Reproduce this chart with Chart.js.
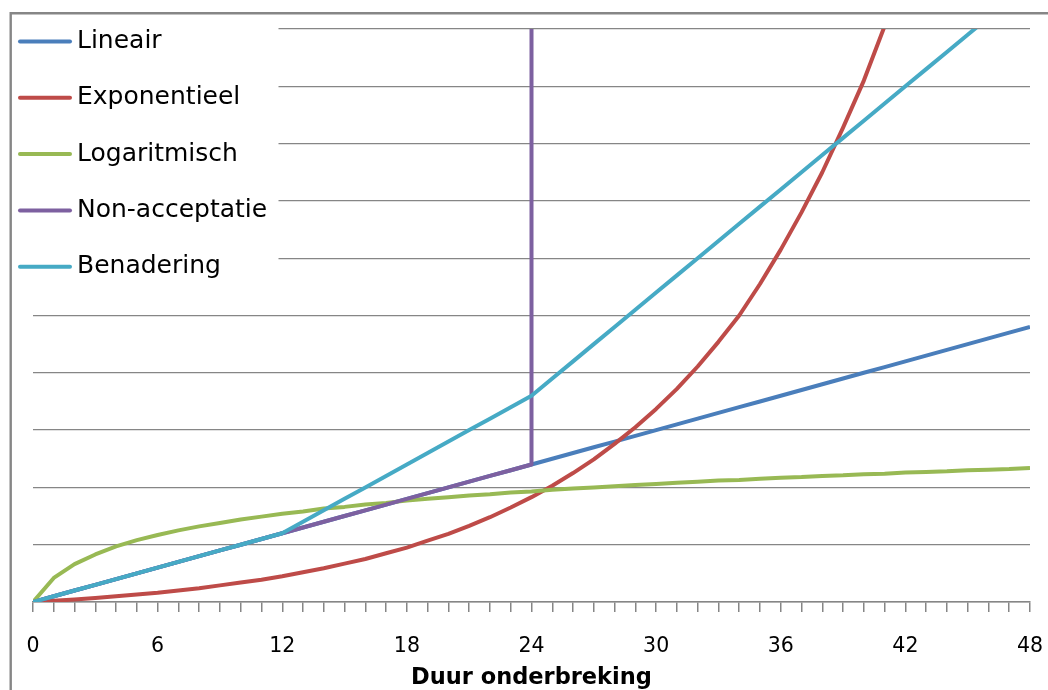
<!DOCTYPE html>
<html>
<head>
<meta charset="utf-8">
<script src="https://cdn.jsdelivr.net/npm/chart.js@4/dist/chart.umd.min.js"></script>
<style>
  html, body { margin: 0; padding: 0; background: #ffffff; }
  #wrap { width: 1048px; height: 690px; }
</style>
</head>
<body>
<div id="wrap"><canvas id="c" width="1048" height="690"></canvas></div>
<script>
// ---- data ----
const hours = [0,1,2,3,4,5,6,7,8,9,10,11,12,13,14,15,16,17,18,19,20,21,22,23,24,
  25,26,27,28,29,30,31,32,33,34,35,36,37,38,39,40,41,42,43,44,45,46,47,48];

const seriesNames = ["Lineair", "Exponentieel", "Logaritmisch", "Non-acceptatie", "Benadering"];
const seriesColors = ["#4A7EBB", "#BE4B48", "#98B954", "#7D60A0", "#46AAC5"];

const lineair = [0,0.1,0.2,0.3,0.4,0.5,0.6,0.7,0.8,0.9,1.0,1.1,1.2,1.3,1.4,1.5,1.6,1.7,1.8,1.9,2.0,
  2.1,2.2,2.3,2.4,2.5,2.6,2.7,2.8,2.9,3.0,3.1,3.2,3.3,3.4,3.5,3.6,3.7,3.8,3.9,4.0,4.1,4.2,4.3,4.4,4.5,4.6,4.7,4.8];

const exponentieel = [0,0.02,0.045,0.07,0.1,0.13,0.16,0.2,0.24,0.29,0.34,0.39,0.45,0.52,0.59,0.67,0.75,0.85,
  0.95,1.07,1.19,1.33,1.48,1.65,1.83,2.03,2.25,2.49,2.76,3.05,3.37,3.72,4.11,4.54,5.0,5.55,6.15,6.8,7.5,8.28,9.1,10.05,11.1];

const logaritmisch = [0,0.42,0.66,0.83,0.97,1.08,1.17,1.25,1.32,1.38,1.44,1.49,1.54,1.58,1.63,1.66,1.70,1.73,
  1.77,1.80,1.83,1.86,1.88,1.91,1.93,1.96,1.98,2.0,2.02,2.04,2.06,2.08,2.10,2.12,2.13,2.15,2.17,2.18,2.20,2.21,
  2.23,2.24,2.26,2.27,2.28,2.30,2.31,2.32,2.34];

const nonAccHours = [0,1,2,3,4,5,6,7,8,9,10,11,12,13,14,15,16,17,18,19,20,21,22,23,24,24];
const nonAcceptatie = [0,0.1,0.2,0.3,0.4,0.5,0.6,0.7,0.8,0.9,1.0,1.1,1.2,1.3,1.4,1.5,1.6,1.7,1.8,1.9,2.0,
  2.1,2.2,2.3,2.4,12];

const benadering = [0,0.1,0.2,0.3,0.4,0.5,0.6,0.7,0.8,0.9,1.0,1.1,1.2,1.4,1.6,1.8,2.0,2.2,2.4,2.6,2.8,3.0,
  3.2,3.4,3.6,3.9,4.2,4.5,4.8,5.1,5.4,5.7,6.0,6.3,6.6,6.9,7.2,7.5,7.8,8.1,8.4,8.7,9.0,9.3,9.6,9.9,10.2,10.5,10.8];

const xTickLabels = ["0","6","12","18","24","30","36","42","48"];
const xTitle = "Duur onderbreking";

// ---- helpers ----
function pts(xs, ys) { return ys.map((y, i) => ({ x: xs[i], y: y })); }

const seriesData = [
  pts(hours, lineair),
  pts(hours, exponentieel),
  pts(hours, logaritmisch),
  pts(nonAccHours, nonAcceptatie),
  pts(hours, benadering)
];
const drawOrder = [5, 4, 3, 2, 1];

const datasets = seriesNames.map((name, i) => ({
  label: name,
  data: seriesData[i],
  borderColor: seriesColors[i],
  backgroundColor: seriesColors[i],
  borderWidth: 4,
  pointRadius: 0,
  pointHoverRadius: 0,
  tension: 0,
  fill: false,
  borderJoinStyle: 'round',
  borderCapStyle: 'butt',
  clip: 0,
  order: drawOrder[i]
}));

const GRID = '#868686';

const framePlugin = {
  id: 'frame',
  beforeDraw(chart) {
    const ctx = chart.ctx;
    ctx.save();
    ctx.fillStyle = '#ffffff';
    ctx.fillRect(0, 0, chart.width, chart.height);
    ctx.strokeStyle = GRID;
    ctx.lineWidth = 2.4;
    ctx.beginPath();
    ctx.moveTo(10.7, chart.height + 2);
    ctx.lineTo(10.7, 13.3);
    ctx.lineTo(chart.width + 2, 13.3);
    ctx.stroke();
    ctx.restore();
  }
};

const legendPlugin = {
  id: 'sideLegend',
  afterDraw(chart) {
    const ctx = chart.ctx;
    ctx.save();
    ctx.fillStyle = '#ffffff';
    ctx.fillRect(12.5, 15, 266, 282);
    chart.data.datasets.forEach((ds, i) => {
      const y = 41.5 + i * 56.3;
      ctx.strokeStyle = ds.borderColor;
      ctx.lineWidth = 4;
      ctx.lineCap = 'round';
      ctx.beginPath();
      ctx.moveTo(20, y);
      ctx.lineTo(70, y);
      ctx.stroke();
      ctx.fillStyle = '#000000';
      ctx.font = '25px "DejaVu Sans"';
      ctx.textBaseline = 'middle';
      ctx.textAlign = 'left';
      ctx.fillText(ds.label, 77, y);
    });
    ctx.restore();
  }
};

new Chart(document.getElementById('c'), {
  type: 'line',
  data: { datasets: datasets },
  options: {
    responsive: false,
    animation: false,
    events: [],
    layout: { padding: { top: 29, left: 33, right: 18, bottom: 0 } },
    plugins: {
      legend: { display: false },
      tooltip: { enabled: false },
      title: { display: false }
    },
    scales: {
      x: {
        type: 'linear',
        min: 0,
        max: 48,
        afterFit(scale) { scale.height = 88; scale.paddingLeft = 0; scale.paddingRight = 0; },
        border: { display: true, color: GRID, width: 1.5 },
        grid: { display: true, drawOnChartArea: false, drawTicks: true, tickLength: 10, color: GRID, lineWidth: 1.5 },
        ticks: {
          stepSize: 1,
          autoSkip: false,
          maxRotation: 0,
          minRotation: 0,
          padding: 22,
          color: '#000000',
          font: { family: '"DejaVu Sans"', size: 20.5 },
          callback(v) { const s = String(v); return xTickLabels.includes(s) ? s : ''; }
        },
        title: {
          display: true,
          text: xTitle,
          color: '#000000',
          font: { family: '"DejaVu Sans"', size: 22.5, weight: 'bold' },
          padding: { top: 0, bottom: -2 }
        }
      },
      y: {
        type: 'linear',
        min: 0,
        max: 10,
        afterFit(scale) { scale.width = 0; scale.paddingTop = 0; scale.paddingBottom = 0; },
        border: { display: false },
        grid: { display: true, drawTicks: false, color: GRID, lineWidth: 1.2 },
        ticks: { display: false, stepSize: 1 }
      }
    }
  },
  plugins: [framePlugin, legendPlugin]
});
</script>
</body>
</html>
